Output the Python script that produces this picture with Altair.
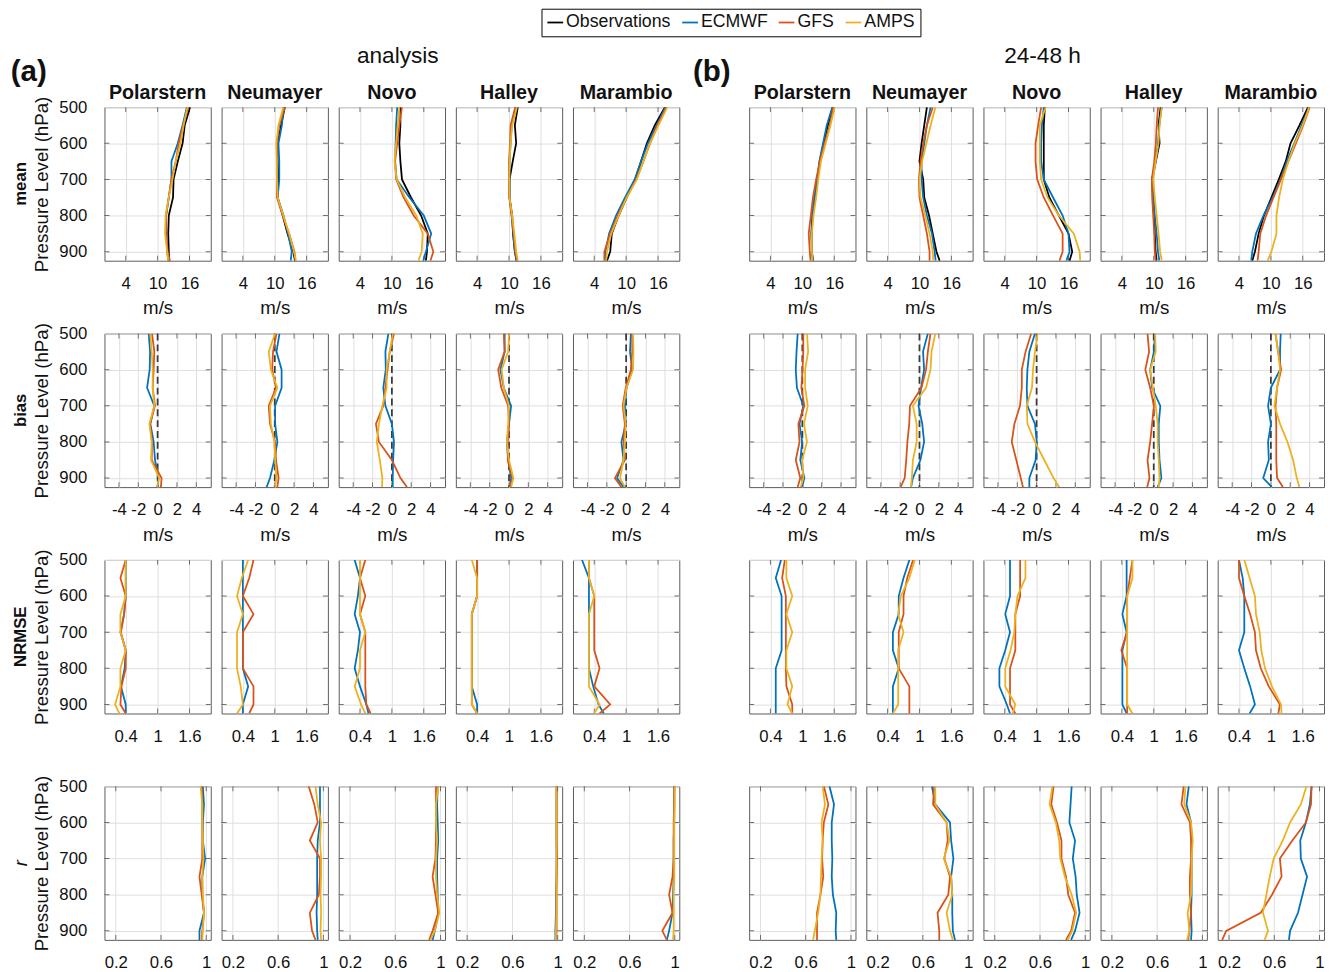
import altair as alt
import pandas as pd

# ---------------- data ----------------
LEVELS = [500, 550, 600, 650, 700, 750, 800, 850, 900, 925]
STATIONS = ["Polarstern", "Neumayer", "Novo", "Halley", "Marambio"]
SERIES = ["Observations", "ECMWF", "GFS", "AMPS"]
SERIES_COLORS = ["#000000", "#0072BD", "#D95319", "#EDB120"]
GROUP_TITLES = ["analysis", "24-48 h"]
GROUP_TAGS = ["(a)", "(b)"]
METRICS = ["mean", "bias", "NRMSE", "r"]
X_TICKS = {"mean": [4, 10, 16], "bias": [-4, -2, 0, 2, 4], "NRMSE": [0.4, 1, 1.6], "r": [0.2, 0.6, 1]}
X_DOMAINS = {"mean": [0, 20], "bias": [-5.5, 5.5], "NRMSE": [0, 2], "r": [0.1, 1.04]}
X_TITLES = {"mean": "m/s", "bias": "m/s", "NRMSE": "m/s", "r": ""}
Y_TICKS = [500, 600, 700, 800, 900]
Y_DOMAIN = [500, 925]
BIAS_REFERENCE = [0, 0, 0, 0, 0, 0, 0, 0, 0, 0]

MEAN_ANALYSIS = {
    "Polarstern": {"Observations": [16.1, 15.1, 14.7, 13.8, 13.0, 12.9, 12.1, 12.0, 12.1, 12.2],
                   "ECMWF": [15.5, 14.7, 13.8, 12.6, 12.6, 12.1, 11.6, 11.6, 11.8, 12.0],
                   "GFS": [15.8, 14.8, 14.0, 13.4, 12.6, 12.1, 11.6, 11.6, 11.9, 12.3],
                   "AMPS": [15.6, 14.9, 14.3, 13.4, 12.8, 12.1, 11.5, 11.4, 11.8, 12.0]},
    "Neumayer": {"Observations": [11.9, 11.2, 10.55, 10.55, 10.7, 10.55, 11.5, 12.4, 13.5, 13.8],
                 "ECMWF": [11.65, 11.35, 10.7, 10.85, 10.85, 10.55, 11.65, 12.5, 13.2, 13.0],
                 "GFS": [11.9, 10.85, 10.4, 10.4, 10.4, 10.4, 11.5, 12.7, 13.7, 13.9],
                 "AMPS": [11.6, 10.7, 10.3, 10.4, 10.4, 10.55, 11.6, 12.7, 13.6, 14.0]},
    "Novo": {"Observations": [11.6, 11.6, 11.4, 11.6, 11.9, 13.6, 15.5, 16.75, 16.6, 16.4],
             "ECMWF": [11.0, 10.8, 10.7, 10.6, 10.9, 13.3, 16.0, 17.4, 16.4, 15.9],
             "GFS": [11.9, 11.4, 11.0, 10.6, 10.8, 12.2, 14.1, 16.75, 17.8, 17.25],
             "AMPS": [11.4, 11.1, 10.8, 10.5, 10.9, 12.5, 14.6, 15.8, 15.6, 15.0]},
    "Halley": {"Observations": [11.65, 11.1, 11.35, 10.7, 10.1, 10.1, 10.6, 10.75, 11.1, 11.4],
               "ECMWF": [11.2, 10.5, 10.3, 10.1, 10.1, 10.1, 10.5, 10.8, 11.1, 11.5],
               "GFS": [11.2, 10.3, 10.2, 10.0, 10.0, 10.05, 10.5, 10.9, 11.2, 11.5],
               "AMPS": [11.5, 10.6, 10.3, 10.1, 10.05, 10.1, 10.6, 11.0, 11.35, 11.65]},
    "Marambio": {"Observations": [17.3, 15.4, 13.9, 12.8, 11.7, 10.1, 8.6, 7.3, 7.0, 6.4],
                 "ECMWF": [17.4, 15.75, 14.1, 12.8, 11.6, 9.8, 8.1, 6.8, 6.1, 6.1],
                 "GFS": [17.6, 15.9, 14.5, 13.25, 11.9, 10.1, 8.4, 7.0, 5.9, 5.9],
                 "AMPS": [17.75, 16.1, 14.5, 13.25, 12.0, 10.1, 8.6, 7.2, 6.4, 6.25]},
}

MEAN_FORECAST = {
    "Polarstern": {"Observations": [15.7, 14.8, 14.0, 13.3, 12.8, 12.3, 11.9, 11.7, 11.8, 12.0],
                   "ECMWF": [15.65, 14.6, 13.9, 13.2, 12.8, 12.3, 11.9, 11.8, 11.8, 12.0],
                   "GFS": [15.85, 15.15, 14.2, 13.3, 12.6, 12.0, 11.6, 11.2, 11.4, 11.55],
                   "AMPS": [16.1, 15.3, 14.4, 13.5, 13.0, 12.6, 12.1, 11.8, 11.8, 11.9]},
    "Neumayer": {"Observations": [11.4, 10.9, 10.4, 10.0, 10.7, 10.9, 11.8, 12.5, 13.2, 13.8],
                 "ECMWF": [12.1, 11.4, 10.9, 10.4, 10.4, 10.7, 11.4, 12.35, 12.85, 13.05],
                 "GFS": [12.5, 11.4, 10.7, 10.2, 9.9, 10.0, 10.7, 11.4, 11.9, 11.9],
                 "AMPS": [13.0, 12.1, 11.3, 10.5, 10.0, 10.2, 11.1, 11.9, 12.5, 12.6]},
    "Novo": {"Observations": [11.55, 11.35, 11.35, 11.35, 11.35, 12.4, 14.2, 16.0, 16.7, 16.2],
             "ECMWF": [11.35, 11.0, 10.85, 10.85, 11.35, 13.1, 14.9, 16.0, 16.2, 15.6],
             "GFS": [10.85, 10.3, 9.8, 9.8, 10.1, 11.35, 13.1, 14.9, 14.9, 14.3],
             "AMPS": [11.7, 10.6, 10.6, 10.6, 10.85, 12.05, 14.2, 17.0, 18.1, 18.2]},
    "Halley": {"Observations": [11.3, 10.9, 11.1, 10.4, 9.7, 9.9, 10.1, 10.2, 10.35, 10.55],
               "ECMWF": [11.5, 11.05, 10.8, 10.35, 9.65, 9.9, 10.2, 10.55, 10.8, 11.05],
               "GFS": [10.8, 10.55, 10.4, 10.1, 9.65, 9.7, 9.9, 10.1, 10.2, 10.35],
               "AMPS": [11.5, 11.1, 10.9, 10.35, 9.9, 10.2, 10.55, 10.9, 11.2, 11.5]},
    "Marambio": {"Observations": [17.0, 15.4, 13.7, 12.8, 11.5, 10.1, 8.7, 7.7, 7.0, 6.5],
                 "ECMWF": [17.2, 15.8, 14.4, 13.0, 11.8, 10.35, 8.6, 7.2, 6.5, 6.3],
                 "GFS": [17.3, 16.1, 14.7, 13.3, 11.9, 10.5, 9.1, 8.0, 7.7, 7.5],
                 "AMPS": [17.2, 16.0, 14.5, 13.3, 12.25, 11.55, 11.05, 11.05, 10.1, 9.4]},
}

BIAS_ANALYSIS = {
    "Polarstern": {"ECMWF": [-0.92, -0.78, -0.82, -1.09, -0.34, -0.75, -0.41, -0.27, 0.1, 0.0],
                   "GFS": [-0.58, -0.34, -0.41, -0.51, -0.27, -0.78, -0.58, -0.61, 0.41, 0.34],
                   "AMPS": [-0.75, -0.61, -0.51, -0.51, -0.34, -0.85, -0.61, -0.68, 0.17, -0.07]},
    "Neumayer": {"ECMWF": [0.49, 0.18, 0.71, 0.71, 0.04, 0.04, 0.27, -0.04, -0.49, -0.84],
                 "GFS": [0.18, -0.18, -0.27, 0.13, -0.62, -0.49, 0.04, 0.13, 0.4, 0.27],
                 "AMPS": [0.04, -0.62, -0.4, 0.27, -0.49, -0.4, -0.04, 0.04, 0.18, 0.04]},
    "Novo": {"ECMWF": [-0.36, -0.67, -0.63, -0.89, -0.67, 0.0, 0.22, 0.13, 0.09, 0.09],
             "GFS": [0.22, -0.22, -0.45, -0.67, -0.89, -1.65, -1.34, 0.0, 0.89, 1.56],
             "AMPS": [0.09, -0.22, -0.54, -0.54, -0.98, -1.34, -1.56, -1.25, -0.98, -1.03]},
    "Halley": {"ECMWF": [-0.45, -0.45, -0.89, -0.54, 0.22, 0.0, -0.22, -0.09, 0.22, 0.09],
               "GFS": [-0.54, -0.45, -1.12, -0.8, -0.09, 0.0, -0.13, -0.13, 0.36, 0.09],
               "AMPS": [0.0, -0.09, -0.76, -0.54, 0.0, -0.09, -0.22, 0.0, 0.45, 0.22]},
    "Marambio": {"ECMWF": [0.49, 0.4, 0.63, 0.04, -0.13, -0.04, -0.49, -0.27, -0.94, -0.27],
                 "GFS": [0.63, 0.63, 0.49, -0.04, -0.36, -0.13, -0.27, -0.13, -1.16, -0.49],
                 "AMPS": [0.71, 0.76, 0.71, 0.04, -0.27, -0.04, -0.13, -0.27, -0.63, -0.13]},
}

BIAS_FORECAST = {
    "Polarstern": {"ECMWF": [-0.48, -0.6, -0.68, -0.56, 0.1, -0.29, -0.02, -0.21, 0.21, -0.02],
                   "GFS": [0.1, 0.1, 0.02, -0.1, 0.21, -0.41, -0.29, -0.68, -0.21, -0.48],
                   "AMPS": [0.48, 0.6, 0.29, 0.29, 0.56, 0.17, 0.48, -0.02, 0.1, -0.17]},
    "Neumayer": {"ECMWF": [0.87, 0.37, 0.48, 0.17, -0.1, 0.29, 0.48, 0.1, -0.68, -0.87],
                 "GFS": [1.14, 0.87, 0.68, 0.21, -0.98, -1.06, -1.25, -1.37, -1.53, -1.95],
                 "AMPS": [1.64, 1.25, 1.14, 0.68, -0.68, -0.29, -0.29, -0.68, -0.79, -0.87]},
    "Novo": {"ECMWF": [-0.17, -0.75, -0.95, -1.02, -0.95, -0.17, 0.02, -0.1, -0.75, -0.75],
             "GFS": [-0.56, -1.14, -1.53, -1.53, -1.72, -2.3, -2.57, -2.1, -1.64, -1.41],
             "AMPS": [0.1, -0.17, -0.37, -0.48, -1.02, -0.95, -0.17, 0.79, 1.76, 2.34]},
    "Halley": {"ECMWF": [0.14, 0.02, -0.37, -0.17, 0.68, 0.52, 0.52, 0.6, 0.79, 0.41],
               "GFS": [-0.64, -0.48, -0.87, -0.37, 0.02, -0.17, -0.37, -0.64, -0.44, -0.68],
               "AMPS": [0.14, 0.21, -0.37, -0.1, 0.21, 0.41, 0.41, 0.52, 0.6, 0.52]},
    "Marambio": {"ECMWF": [1.02, 0.95, 0.95, 0.0, -0.29, 0.0, -0.29, -0.21, -0.79, 0.1],
                 "GFS": [0.48, 0.75, 1.06, 0.64, 0.48, 0.56, 0.56, 0.56, 0.64, 1.25],
                 "AMPS": [0.48, 0.75, 0.95, 0.64, 0.37, 0.95, 1.72, 2.3, 2.68, 2.95]},
}

NRMSE_ANALYSIS = {
    "Polarstern": {"ECMWF": [0.4, 0.4, 0.4, 0.37, 0.3, 0.4, 0.38, 0.31, 0.4, 0.4],
                   "GFS": [0.4, 0.3, 0.4, 0.37, 0.31, 0.4, 0.4, 0.32, 0.3, 0.4],
                   "AMPS": [0.4, 0.4, 0.4, 0.3, 0.3, 0.4, 0.3, 0.3, 0.2, 0.28]},
    "Neumayer": {"ECMWF": [0.4, 0.4, 0.4, 0.4, 0.4, 0.4, 0.4, 0.5, 0.4, 0.4],
                 "GFS": [0.6, 0.52, 0.4, 0.6, 0.4, 0.4, 0.4, 0.6, 0.6, 0.52],
                 "AMPS": [0.5, 0.38, 0.29, 0.4, 0.29, 0.29, 0.29, 0.36, 0.4, 0.29]},
    "Novo": {"ECMWF": [0.3, 0.4, 0.36, 0.3, 0.4, 0.36, 0.3, 0.4, 0.52, 0.56],
             "GFS": [0.5, 0.4, 0.5, 0.4, 0.5, 0.5, 0.5, 0.5, 0.52, 0.6],
             "AMPS": [0.4, 0.4, 0.4, 0.4, 0.5, 0.4, 0.4, 0.3, 0.42, 0.5]},
    "Halley": {"ECMWF": [0.4, 0.4, 0.4, 0.3, 0.3, 0.3, 0.3, 0.3, 0.4, 0.4],
               "GFS": [0.4, 0.4, 0.4, 0.3, 0.3, 0.3, 0.3, 0.3, 0.3, 0.4],
               "AMPS": [0.3, 0.4, 0.4, 0.3, 0.3, 0.3, 0.3, 0.3, 0.3, 0.4]},
    "Marambio": {"ECMWF": [0.17, 0.3, 0.3, 0.3, 0.3, 0.3, 0.3, 0.38, 0.48, 0.58],
                 "GFS": [0.3, 0.3, 0.4, 0.4, 0.4, 0.4, 0.5, 0.4, 0.7, 0.5],
                 "AMPS": [0.3, 0.3, 0.4, 0.3, 0.3, 0.3, 0.3, 0.3, 0.5, 0.4]},
}

NRMSE_FORECAST = {
    "Polarstern": {"ECMWF": [0.6, 0.5, 0.61, 0.61, 0.61, 0.61, 0.5, 0.5, 0.5, 0.5],
                   "GFS": [0.67, 0.62, 0.69, 0.69, 0.69, 0.69, 0.69, 0.7, 0.81, 0.81],
                   "AMPS": [0.7, 0.7, 0.81, 0.7, 0.81, 0.7, 0.7, 0.81, 0.72, 0.81]},
    "Neumayer": {"ECMWF": [0.81, 0.7, 0.61, 0.61, 0.5, 0.5, 0.61, 0.5, 0.5, 0.5],
                 "GFS": [0.88, 0.77, 0.7, 0.7, 0.61, 0.61, 0.61, 0.81, 0.81, 0.81],
                 "AMPS": [0.91, 0.81, 0.65, 0.6, 0.7, 0.6, 0.6, 0.6, 0.6, 0.5]},
    "Novo": {"ECMWF": [0.5, 0.5, 0.5, 0.41, 0.5, 0.41, 0.3, 0.3, 0.44, 0.5],
             "GFS": [0.69, 0.69, 0.69, 0.6, 0.6, 0.6, 0.5, 0.5, 0.5, 0.6],
             "AMPS": [0.79, 0.79, 0.64, 0.6, 0.58, 0.51, 0.41, 0.41, 0.6, 0.55]},
    "Halley": {"ECMWF": [0.49, 0.49, 0.49, 0.41, 0.49, 0.41, 0.41, 0.41, 0.41, 0.49],
               "GFS": [0.6, 0.55, 0.5, 0.5, 0.5, 0.39, 0.5, 0.5, 0.5, 0.5],
               "AMPS": [0.6, 0.6, 0.5, 0.5, 0.5, 0.5, 0.5, 0.5, 0.5, 0.6]},
    "Marambio": {"ECMWF": [0.4, 0.47, 0.5, 0.5, 0.5, 0.4, 0.5, 0.61, 0.7, 0.6],
                 "GFS": [0.4, 0.4, 0.5, 0.61, 0.7, 0.72, 0.81, 0.96, 1.17, 1.14],
                 "AMPS": [0.5, 0.6, 0.7, 0.72, 0.79, 0.82, 0.89, 1.02, 1.19, 1.2]},
}

R_ANALYSIS = {
    "Polarstern": {"ECMWF": [0.97, 0.98, 0.97, 0.97, 0.99, 0.965, 0.965, 0.98, 0.94, 0.94],
                   "GFS": [0.96, 0.965, 0.965, 0.965, 0.965, 0.94, 0.96, 0.98, 0.965, 0.96],
                   "AMPS": [0.95, 0.965, 0.965, 0.97, 0.975, 0.965, 0.97, 0.98, 0.97, 0.965]},
    "Neumayer": {"ECMWF": [0.97, 0.97, 0.97, 0.95, 0.945, 0.945, 0.945, 0.94, 0.945, 0.95],
                 "GFS": [0.87, 0.92, 0.95, 0.88, 0.97, 0.97, 0.96, 0.88, 0.9, 0.93],
                 "AMPS": [0.93, 0.95, 0.98, 0.97, 0.98, 0.98, 0.975, 0.98, 0.975, 0.98]},
    "Novo": {"ECMWF": [0.975, 0.97, 0.975, 0.98, 0.97, 0.97, 0.975, 0.98, 0.95, 0.93],
             "GFS": [0.96, 0.96, 0.96, 0.96, 0.955, 0.93, 0.955, 0.98, 0.93, 0.9],
             "AMPS": [0.98, 0.96, 0.96, 0.97, 0.96, 0.96, 0.97, 0.99, 0.95, 0.91]},
    "Halley": {"ECMWF": [0.99, 0.99, 0.99, 0.99, 0.99, 0.99, 0.985, 0.985, 0.98, 0.98],
               "GFS": [0.99, 0.99, 0.99, 0.99, 0.995, 0.99, 0.99, 0.99, 0.99, 0.985],
               "AMPS": [0.985, 0.99, 0.99, 0.99, 0.99, 0.99, 0.99, 0.99, 0.985, 0.985]},
    "Marambio": {"ECMWF": [0.995, 0.995, 0.995, 0.99, 0.99, 0.99, 0.985, 0.98, 0.95, 0.93],
                 "GFS": [0.995, 0.995, 0.99, 0.99, 0.99, 0.98, 0.95, 0.98, 0.89, 0.93],
                 "AMPS": [1.0, 1.0, 0.995, 0.995, 0.995, 0.995, 0.99, 0.99, 0.99, 0.985]},
}

R_FORECAST = {
    "Polarstern": {"ECMWF": [0.81, 0.85, 0.83, 0.83, 0.835, 0.83, 0.84, 0.87, 0.865, 0.87],
                   "GFS": [0.76, 0.8, 0.76, 0.75, 0.745, 0.755, 0.73, 0.7, 0.7, 0.7],
                   "AMPS": [0.75, 0.77, 0.74, 0.75, 0.74, 0.735, 0.73, 0.71, 0.68, 0.665]},
    "Neumayer": {"ECMWF": [0.68, 0.71, 0.84, 0.85, 0.87, 0.85, 0.86, 0.86, 0.865, 0.885],
                 "GFS": [0.7, 0.69, 0.81, 0.82, 0.79, 0.84, 0.825, 0.73, 0.745, 0.745],
                 "AMPS": [0.71, 0.71, 0.81, 0.835, 0.785, 0.85, 0.86, 0.81, 0.84, 0.865]},
    "Novo": {"ECMWF": [0.88, 0.87, 0.86, 0.91, 0.89, 0.915, 0.925, 0.95, 0.91, 0.875],
             "GFS": [0.72, 0.7, 0.75, 0.79, 0.79, 0.83, 0.85, 0.91, 0.875, 0.83],
             "AMPS": [0.71, 0.685, 0.74, 0.77, 0.78, 0.82, 0.88, 0.92, 0.885, 0.845]},
    "Halley": {"ECMWF": [0.88, 0.86, 0.9, 0.905, 0.905, 0.905, 0.905, 0.9, 0.905, 0.9],
               "GFS": [0.835, 0.815, 0.89, 0.9, 0.9, 0.89, 0.89, 0.9, 0.885, 0.875],
               "AMPS": [0.85, 0.84, 0.9, 0.915, 0.905, 0.905, 0.9, 0.87, 0.885, 0.865]},
    "Marambio": {"ECMWF": [0.93, 0.915, 0.88, 0.83, 0.835, 0.89, 0.85, 0.81, 0.74, 0.73],
                 "GFS": [0.93, 0.925, 0.88, 0.76, 0.65, 0.665, 0.58, 0.48, 0.175, 0.14],
                 "AMPS": [0.885, 0.835, 0.74, 0.675, 0.595, 0.56, 0.53, 0.5, 0.545, 0.515]},
}

TABLES = {
    ("mean", 0): MEAN_ANALYSIS, ("mean", 1): MEAN_FORECAST,
    ("bias", 0): BIAS_ANALYSIS, ("bias", 1): BIAS_FORECAST,
    ("NRMSE", 0): NRMSE_ANALYSIS, ("NRMSE", 1): NRMSE_FORECAST,
    ("r", 0): R_ANALYSIS, ("r", 1): R_FORECAST,
}

# ---------------- style ----------------
FONT = "Liberation Sans"
W, H = 108, 156
GRID = "#dedede"
BOX = "#5a5a5a"
TICKC = "#3a3a3a"
TXT = "#111111"

COLOR = alt.Color(
    "s:N",
    scale=alt.Scale(domain=SERIES, range=SERIES_COLORS),
    legend=alt.Legend(
        title=None, orient="none", direction="horizontal", legendX=444, legendY=-100,
        symbolType="stroke", symbolSize=256, symbolStrokeWidth=1.8,
        labelFont=FONT, labelFontSize=18, labelColor=TXT, labelOffset=2,
        columnPadding=7, padding=5, strokeColor="#000000", fillColor="#ffffff",
    ),
)

LABEL_EXPR = "datum.value < 0 ? '-' + format(abs(datum.value), '~g') : format(datum.value, '~g')"


def text_layer(text, x, y, **style):
    return alt.Chart(pd.DataFrame({"t": [text]})).mark_text(font=FONT, color=TXT, **style).encode(
        text="t:N", x=alt.value(x), y=alt.value(y))


def panel(metric, gi, si, mi):
    station = STATIONS[si]
    series = TABLES[(metric, gi)][station]
    first = gi == 0 and si == 0
    rows = [{"p": lev, "v": val, "s": name}
            for name in SERIES if name in series
            for lev, val in zip(LEVELS, series[name])]
    df = pd.DataFrame(rows)
    xdom = X_DOMAINS[metric]

    xkw = dict(values=X_TICKS[metric], labelExpr=LABEL_EXPR, grid=True, ticks=False, tickSize=0,
               domain=False, labelPadding=15, titlePadding=8, gridColor=GRID)
    if X_TITLES[metric]:
        xkw["title"] = X_TITLES[metric]
        if metric == "NRMSE":
            xkw["titleOpacity"] = 0
    else:
        xkw["title"] = None
    ykw = dict(values=Y_TICKS, grid=True, ticks=False, tickSize=0, domain=False, labels=first,
               labelPadding=18, titlePadding=8, gridColor=GRID)
    ykw["title"] = "Pressure Level (hPa)" if first else None

    X = alt.X("v:Q", scale=alt.Scale(domain=xdom, nice=False, zero=False), axis=alt.Axis(**xkw))
    Y = alt.Y("p:Q", scale=alt.Scale(domain=Y_DOMAIN, reverse=True, nice=False, zero=False),
              axis=alt.Axis(**ykw))

    layers = []
    ytick_df = pd.DataFrame([{"p": p, "v": v} for p in Y_TICKS[1:] for v in xdom])
    xtick_df = pd.DataFrame([{"p": p, "v": v} for v in X_TICKS[metric] for p in Y_DOMAIN])
    layers.append(alt.Chart(ytick_df).mark_tick(orient="horizontal", size=10, thickness=1,
                                                color=TICKC, clip=True).encode(x=X, y=Y))
    layers.append(alt.Chart(xtick_df).mark_tick(orient="vertical", size=10, thickness=1,
                                                color=TICKC, clip=True).encode(x=X, y=Y))
    if metric == "bias":
        ref = pd.DataFrame({"p": LEVELS, "v": BIAS_REFERENCE})
        layers.append(alt.Chart(ref).mark_line(color="#3a3a3a", strokeDash=[7, 4], strokeWidth=1.8,
                                               clip=True).encode(x=X, y=Y))
    for name in SERIES:
        if name in series:
            layers.append(alt.Chart(df).transform_filter(alt.datum.s == name)
                          .mark_line(strokeWidth=1.8, clip=True)
                          .encode(x=X, y=Y, color=COLOR, order=alt.Order("p:Q")))

    if first:
        if metric == "r":
            layers.append(text_layer("r", -85, H / 2, fontSize=19, fontStyle="italic", angle=270,
                                     baseline="middle"))
        else:
            layers.append(text_layer(metric, -85, H / 2, fontSize=17, fontWeight="bold", angle=270,
                                     baseline="middle"))
        if mi == 0:
            layers.append(text_layer(GROUP_TAGS[0], -77, -27, fontSize=30, fontWeight="bold",
                                     baseline="alphabetic"))
        else:
            # invisible placeholder giving every row the same left extent as the first
            layers.append(text_layer(GROUP_TAGS[0], -77, H / 2, fontSize=30, fontWeight="bold",
                                     baseline="middle", opacity=0))
    if mi == 0:
        layers.append(text_layer(station, W / 2, -8, fontSize=20, fontWeight="bold",
                                 baseline="alphabetic"))
        if si == 2:
            layers.append(text_layer(GROUP_TITLES[gi], 60, -45, fontSize=23, baseline="alphabetic"))

    return alt.layer(*layers).properties(width=W, height=H)


def spacer(mi):
    tag = GROUP_TAGS[1] if mi == 0 else ""
    return (alt.Chart(pd.DataFrame({"t": [tag]}))
            .mark_text(font=FONT, fontSize=30, fontWeight="bold", color=TXT, baseline="alphabetic")
            .encode(text="t:N", x=alt.value(22), y=alt.value(-27 if mi == 0 else H / 2))
            .properties(width=49, height=H, view=alt.ViewBackground(stroke="transparent")))


rows_out = []
for mi, metric in enumerate(METRICS):
    row = []
    for gi in range(2):
        for si in range(len(STATIONS)):
            row.append(panel(metric, gi, si, mi))
        if gi == 0:
            row.append(spacer(mi))
    rows_out.append(alt.hconcat(*row, spacing=9))

chart = (
    alt.vconcat(*rows_out, spacing=3)
    .properties(padding={"left": 2, "top": -8, "right": 0, "bottom": 0})
    .configure_view(stroke=BOX, strokeWidth=1)
    .configure_axis(labelFont=FONT, labelFontSize=17, labelColor=TXT, titleFont=FONT,
                    titleFontSize=19, titleFontWeight="normal", titleColor=TXT, gridWidth=1)
    .configure_title(font=FONT)
)

chart.save("out.html", embed_options={"renderer": "svg", "actions": False})
